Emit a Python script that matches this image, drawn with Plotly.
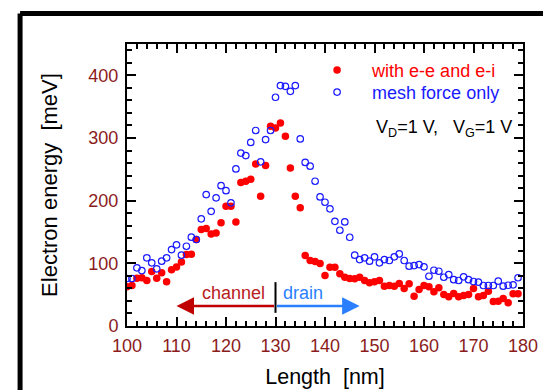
import plotly.graph_objects as go

# ---- data ----
length_nm = list(range(100, 180))

energy_ee_ei = [
    62.5, 64.6, 76, 77, 72.6, 87, 76, 85, 70.5, 89.6,
    94, 102, 114, 114.5, 138, 154, 155.5, 147, 148.6, 164.6,
    191, 191, 166, 229, 231, 234, 258.7, 207, 256, 318.7,
    316, 324, 302.7, 252, 207, 188.5, 112.4, 104.5, 103, 99.7,
    80.5, 93.8, 93.8, 83.2, 77.8, 75.8, 75.2, 77.8, 72.6, 68.9,
    70.5, 72.6, 63.5, 64.6, 63.5, 67.8, 59.8, 67.3, 47.5, 58.2,
    64.6, 62.5, 54.5, 60.9, 50.2, 46.6, 51.8, 46.6, 48.6, 50.2,
    59.8, 46.6, 48.6, 55.5, 39, 39.6, 43.9, 37, 51.3, 51.3,
]

energy_mesh = [
    75.8, 75.8, 92.8, 88.5, 108.8, 100.8, 91.2, 103.4, 108.8, 122,
    129.5, 113, 127.3, 141.7, 138, 171, 209.7, 183, 204.5, 224,
    216, 196.5, 250.7, 276, 272, 293, 312, 262, 297.5, 312,
    365, 383.6, 382.5, 374.5, 383.6, 298.6, 261, 255, 231, 206,
    197.5, 187, 167, 152.8, 166, 141.6, 113, 106, 108.8, 103.4,
    110.4, 100.8, 106, 104.5, 110.4, 115, 104.5, 95.4, 96.5, 98,
    94.4, 79.4, 89, 87.4, 77.8, 82, 74, 72.6, 78.5, 74,
    71, 69.9, 64.6, 64.6, 64.6, 71.5, 63.5, 65, 65.7, 77,
]

series_names = ["with e-e and e-i", "mesh force only"]
x_ticks = [100, 110, 120, 130, 140, 150, 160, 170, 180]
y_ticks = [0, 100, 200, 300, 400]

# region marker: boundary and arrow extents (nm, meV)
boundary_nm = 130
channel_end_nm = 110
drain_end_nm = 147
arrow_level = 32
boundary_span = [21, 70]

FONT = "Liberation Sans, Arial, sans-serif"
TICK_COLOR = "#8b1c1c"
RED = "#ff0000"
BLUE = "#1a1aff"
PAD = "\u00a0\u00a0\u00a0"

fig = go.Figure()
fig.add_trace(go.Scatter(
    x=length_nm, y=energy_ee_ei, mode="markers",
    name=PAD + "<span style='color:%s'>%s</span>" % (RED, series_names[0]),
    marker=dict(symbol="circle", size=7.5, color=RED, line=dict(width=0)),
    legend="legend",
))
fig.add_trace(go.Scatter(
    x=length_nm, y=energy_mesh, mode="markers",
    name=PAD + "<span style='color:%s'>%s</span>" % (BLUE, series_names[1]),
    marker=dict(symbol="circle-open", size=6.5, color=BLUE, line=dict(width=1.2, color=BLUE)),
    legend="legend2",
))

axis_common = dict(
    showline=True, linecolor="black", linewidth=2,
    mirror="ticks", ticks="inside", ticklen=9, tickwidth=2, tickcolor="black",
    showgrid=False, zeroline=False,
    tickfont=dict(family=FONT, size=18, color=TICK_COLOR),
)

legend_common = dict(xanchor="left", yanchor="top", bgcolor="rgba(0,0,0,0)",
                     font=dict(family=FONT, size=18), itemsizing="trace")

# the page body adds an 8 px offset, so the figure is sized 8 px smaller
fig.update_layout(
    width=543, height=382,
    margin=dict(l=119, r=28, t=36, b=64, autoexpand=False),
    paper_bgcolor="white", plot_bgcolor="white",
    font=dict(family=FONT, size=18, color="black"),
    showlegend=True,
    legend=dict(x=0.48, y=0.972, **legend_common),
    legend2=dict(x=0.48, y=0.894, **legend_common),
    xaxis=dict(range=[100, 180], tickvals=x_ticks, ticklabelstandoff=2,
               minor=dict(dtick=2, ticks="inside", ticklen=5, tickwidth=2, tickcolor="black"),
               title=dict(text="Length&nbsp; [nm]", font=dict(family=FONT, size=21.5, color="black"), standoff=14),
               **axis_common),
    yaxis=dict(range=[0, 450], tickvals=y_ticks, ticklabelstandoff=3,
               minor=dict(dtick=20, ticks="inside", ticklen=5, tickwidth=2, tickcolor="black"),
               title=dict(text="Electron energy&nbsp; [meV]", font=dict(family=FONT, size=22, color="black"), standoff=25),
               **axis_common),
)

# channel / drain arrows
fig.add_annotation(x=channel_end_nm, y=arrow_level, ax=boundary_nm, ay=arrow_level,
                   xref="x", yref="y", axref="x", ayref="y", text="", showarrow=True,
                   arrowhead=2, arrowsize=1.4, arrowwidth=2.5, arrowcolor="#c00000")
fig.add_annotation(x=drain_end_nm, y=arrow_level, ax=boundary_nm, ay=arrow_level,
                   xref="x", yref="y", axref="x", ayref="y", text="", showarrow=True,
                   arrowhead=2, arrowsize=1.4, arrowwidth=2.5, arrowcolor="#2a7fff")
fig.add_shape(type="line", x0=boundary_nm, x1=boundary_nm, y0=boundary_span[0], y1=boundary_span[1],
              xref="x", yref="y", line=dict(color="black", width=2))
fig.add_annotation(x=128.2, y=53, xref="x", yref="y", text="channel", showarrow=False,
                   xanchor="right", yanchor="middle", font=dict(family=FONT, size=18, color="#b8201e"))
fig.add_annotation(x=131.2, y=53, xref="x", yref="y", text="drain", showarrow=False,
                   xanchor="left", yanchor="middle", font=dict(family=FONT, size=18, color="#2a7fff"))

# bias condition
fig.add_annotation(x=178.2, y=315, xref="x", yref="y",
                   text="V<sub>D</sub>=1 V,&nbsp;&nbsp; V<sub>G</sub>=1 V", showarrow=False,
                   xanchor="right", yanchor="middle", font=dict(family=FONT, size=18, color="black"))

# outer frame (top and left heavy rules)
fig.add_shape(type="line", xref="paper", yref="paper", x0=-0.27, x1=1.2, y0=1.108, y1=1.108,
              line=dict(color="black", width=5))
fig.add_shape(type="line", xref="paper", yref="paper", x0=-0.27, x1=-0.27, y0=-0.3, y1=1.108,
              line=dict(color="black", width=5))

fig.write_html("out.html")
